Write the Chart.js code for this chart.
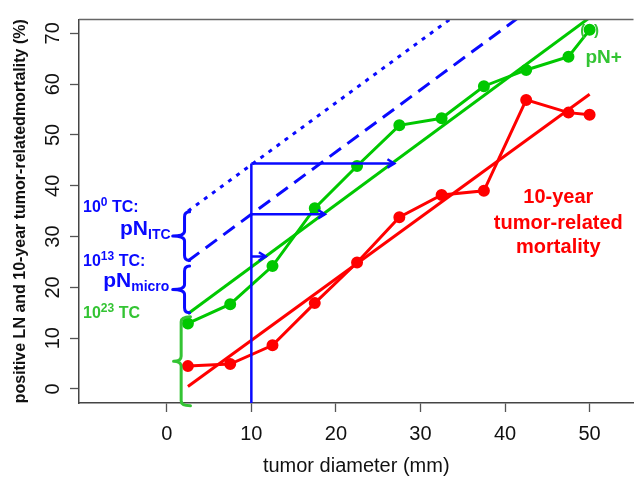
<!DOCTYPE html>
<html>
<head>
<meta charset="utf-8">
<script src="https://cdn.jsdelivr.net/npm/chart.js@4.4.1/dist/chart.umd.min.js"></script>
<style>
  body { margin: 0; background: #fff; }
  canvas { display: block; }
</style>
</head>
<body>
<canvas id="myChart" width="641" height="482"></canvas>
<script>
const X_TICKS = [0, 10, 20, 30, 40, 50];
const Y_TICKS = [0, 10, 20, 30, 40, 50, 60, 70];

// tumor size classes (mm) and observed rates (%)
const SIZES = [2.5, 7.5, 12.5, 17.5, 22.5, 27.5, 32.5, 37.5, 42.5, 47.5, 50];
const PN_POS = [12.9, 16.7, 24.2, 35.6, 43.9, 51.9, 53.3, 59.6, 62.8, 65.4, 70.7];
const MORTALITY = [4.5, 4.9, 8.6, 16.9, 24.9, 33.8, 38.2, 39.0, 56.9, 54.4, 54.0];

// fitted lines
const FIT_X = [2.5, 50];
const FIT_PN = [14.8, 73.1];
const FIT_MORT = [0.5, 58];
const MICRO_X = [2.5, 42];
const MICRO_Y = [25.2, 73.6];
const ITC_X = [2.5, 34];
const ITC_Y = [35, 73.4];

// arrows at 10 mm
const GUIDE_X = 10;
const ARROW_Y = [44.4, 34.4, 26.1];
const ARROW_END = [26.9, 18.7, 11.7];

const X_MIN = -10.38, X_MAX = 55.19;
const Y_MIN = -2.76, Y_MAX = 72.73;

const RED = '#ff0000';
const GREEN = '#00c800';
const LGREEN = '#33c433';
const BLUE = '#0a0aff';
const FONT = '"Liberation Sans", Arial, Helvetica, sans-serif';

Chart.defaults.font.family = FONT;

function xy(xs, ys) {
  return xs.map((x, i) => ({ x: x, y: ys[i] }));
}

function line(data, color, extra) {
  return Object.assign({
    data: data,
    showLine: true,
    borderColor: color,
    backgroundColor: color,
    borderWidth: 3,
    pointRadius: 0,
    clip: 0
  }, extra || {});
}

const datasets = [
  line(xy(ITC_X, ITC_Y), BLUE, { borderDash: [4, 6], borderWidth: 3 }),
  line(xy(MICRO_X, MICRO_Y), BLUE, { borderDash: [14, 8], borderWidth: 3 }),
  line(xy([GUIDE_X, GUIDE_X], [Y_MIN, ARROW_Y[0]]), BLUE, { borderWidth: 2.5 }),
  line(xy([GUIDE_X, ARROW_END[0]], [ARROW_Y[0], ARROW_Y[0]]), BLUE, { borderWidth: 2.5, arrow: true }),
  line(xy([GUIDE_X, ARROW_END[1]], [ARROW_Y[1], ARROW_Y[1]]), BLUE, { borderWidth: 2.5, arrow: true }),
  line(xy([GUIDE_X, ARROW_END[2]], [ARROW_Y[2], ARROW_Y[2]]), BLUE, { borderWidth: 2.5, arrow: true }),
  line(xy(FIT_X, FIT_PN), GREEN),
  line(xy(FIT_X, FIT_MORT), RED),
  line(xy(SIZES, PN_POS), GREEN, { pointRadius: 4.5, clip: 8 }),
  line(xy(SIZES, MORTALITY), RED, { pointRadius: 4.5, clip: 8 })
];

// curly braces (data units)
const BRACES = [
  { color: BLUE, stem: 2.1, tip: 0.7, end: 2.7, lo: 25.3, hi: 34.9 },
  { color: BLUE, stem: 2.1, tip: 0.7, end: 2.7, lo: 15.0, hi: 24.2 },
  { color: LGREEN, stem: 1.7, tip: 0.8, end: 2.8, lo: -3.3, hi: 14.2 }
];

function richText(ctx, parts, x, y, align, color) {
  let w = 0;
  parts.forEach(p => {
    ctx.font = 'bold ' + p.size + 'px ' + FONT;
    p.w = ctx.measureText(p.t).width;
    w += p.w;
  });
  let cx = align === 'right' ? x - w : (align === 'center' ? x - w / 2 : x);
  ctx.fillStyle = color;
  ctx.textAlign = 'left';
  ctx.textBaseline = 'alphabetic';
  parts.forEach(p => {
    ctx.font = 'bold ' + p.size + 'px ' + FONT;
    ctx.fillText(p.t, cx, y + (p.dy || 0));
    cx += p.w;
  });
}

const extras = {
  id: 'extras',
  afterDatasetsDraw(chart) {
    const ctx = chart.ctx;
    const xs = chart.scales.x, ys = chart.scales.y;
    const area = chart.chartArea;
    ctx.save();

    // top frame line
    ctx.strokeStyle = '#666';
    ctx.lineWidth = 1.5;
    ctx.beginPath();
    ctx.moveTo(area.left, area.top);
    ctx.lineTo(area.right, area.top);
    ctx.stroke();

    // arrow heads
    chart.data.datasets.forEach((ds, i) => {
      if (!ds.arrow) return;
      const pts = chart.getDatasetMeta(i).data;
      const a = pts[pts.length - 2], b = pts[pts.length - 1];
      const ang = Math.atan2(b.y - a.y, b.x - a.x);
      ctx.strokeStyle = ds.borderColor;
      ctx.lineWidth = 2.5;
      ctx.beginPath();
      ctx.moveTo(b.x - 8 * Math.cos(ang - 0.55), b.y - 8 * Math.sin(ang - 0.55));
      ctx.lineTo(b.x, b.y);
      ctx.lineTo(b.x - 8 * Math.cos(ang + 0.55), b.y - 8 * Math.sin(ang + 0.55));
      ctx.stroke();
    });

    // braces
    BRACES.forEach(br => {
      const sx = xs.getPixelForValue(br.stem);
      const tx = xs.getPixelForValue(br.tip);
      const ex = xs.getPixelForValue(br.end);
      const top = ys.getPixelForValue(br.hi);
      const bot = ys.getPixelForValue(br.lo);
      const mid = (top + bot) / 2;
      const r = 5;
      ctx.strokeStyle = br.color;
      ctx.lineWidth = 3;
      ctx.lineJoin = 'round';
      ctx.lineCap = 'round';
      ctx.beginPath();
      ctx.moveTo(ex, top);
      ctx.quadraticCurveTo(sx, top, sx, top + r);
      ctx.lineTo(sx, mid - r);
      ctx.quadraticCurveTo(sx, mid, tx, mid);
      ctx.quadraticCurveTo(sx, mid, sx, mid + r);
      ctx.lineTo(sx, bot - r);
      ctx.quadraticCurveTo(sx, bot, ex, bot);
      ctx.stroke();
    });

    const px = v => xs.getPixelForValue(v);
    const py = v => ys.getPixelForValue(v);

    richText(ctx, [{ t: '10', size: 16 }, { t: '0', size: 12, dy: -6 }, { t: ' TC:', size: 16 }], px(-9.9), py(34.8), 'left', BLUE);
    richText(ctx, [{ t: 'pN', size: 21 }, { t: 'ITC', size: 14, dy: 4 }], px(0.45), py(30.3), 'right', BLUE);
    richText(ctx, [{ t: '10', size: 16 }, { t: '13', size: 12, dy: -6 }, { t: ' TC:', size: 16 }], px(-9.9), py(24.2), 'left', BLUE);
    richText(ctx, [{ t: 'pN', size: 21 }, { t: 'micro', size: 14, dy: 4 }], px(0.3), py(20.1), 'right', BLUE);
    richText(ctx, [{ t: '10', size: 16 }, { t: '23', size: 12, dy: -6 }, { t: ' TC', size: 16 }], px(-9.9), py(14.0), 'left', LGREEN);

    richText(ctx, [{ t: 'pN+', size: 19 }], px(49.5), py(64.1), 'left', LGREEN);
    richText(ctx, [{ t: '(', size: 15 }], px(49.2), py(69.7), 'center', LGREEN);
    richText(ctx, [{ t: ')', size: 15 }], px(50.8), py(69.7), 'center', LGREEN);

    richText(ctx, [{ t: '10-year', size: 20 }], px(46.3), py(36.6), 'center', RED);
    richText(ctx, [{ t: 'tumor-related', size: 20 }], px(46.3), py(31.5), 'center', RED);
    richText(ctx, [{ t: 'mortality', size: 20 }], px(46.3), py(26.8), 'center', RED);

    ctx.restore();
  }
};

new Chart(document.getElementById('myChart'), {
  type: 'scatter',
  data: { datasets: datasets },
  options: {
    responsive: false,
    animation: false,
    layout: { padding: { top: 19.5, right: 0, left: 0, bottom: 0 } },
    plugins: { legend: { display: false }, tooltip: { enabled: false } },
    scales: {
      x: {
        type: 'linear',
        min: X_MIN,
        max: X_MAX,
        afterBuildTicks: s => { s.ticks = X_TICKS.map(v => ({ value: v })); },
        afterFit: s => { s.height = 79; s.paddingLeft = 0; s.paddingRight = 0; },
        ticks: { font: { size: 20 }, color: '#111', padding: 10, maxRotation: 0, autoSkip: false },
        grid: { drawOnChartArea: false, tickLength: 9, tickColor: '#555', tickWidth: 1.3 },
        border: { color: '#444', width: 1.5 },
        title: { display: true, text: 'tumor diameter (mm)', font: { size: 20 }, color: '#111', padding: { top: 0, bottom: 4 } }
      },
      y: {
        type: 'linear',
        min: Y_MIN,
        max: Y_MAX,
        afterBuildTicks: s => { s.ticks = Y_TICKS.map(v => ({ value: v })); },
        afterFit: s => { s.width = 79; },
        ticks: { font: { size: 20 }, color: '#111', padding: 5, minRotation: 90, maxRotation: 90, crossAlign: 'center', autoSkip: false },
        grid: { drawOnChartArea: false, tickLength: 9, tickColor: '#555', tickWidth: 1.3 },
        border: { color: '#444', width: 1.5 },
        title: { display: true, text: 'positive LN and 10-year tumor-relatedmortality (%)', font: { size: 16, weight: 'bold' }, color: '#111', padding: { top: 11, bottom: 0 } }
      }
    }
  },
  plugins: [extras]
});
</script>
</body>
</html>
